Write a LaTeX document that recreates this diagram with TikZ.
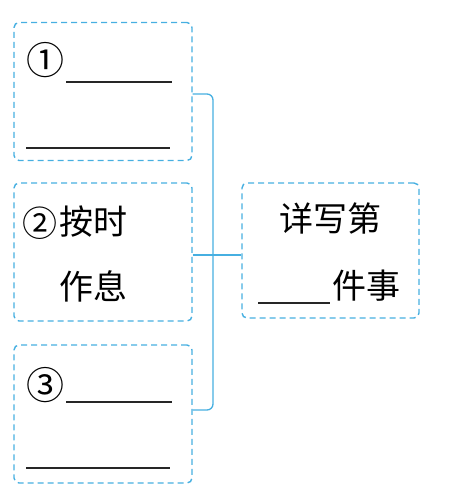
\documentclass[tikz,border=0pt]{standalone}
\usepackage{fontspec}
\newfontfamily\cjk{Noto Sans CJK SC}
\definecolor{boxblue}{RGB}{70,175,225}
\tikzset{
  dbox/.style={draw=boxblue, line width=1.4pt, dash pattern=on 6pt off 4pt, rounded corners=5pt, minimum width=178pt, minimum height=138pt, inner sep=0pt},
  conn/.style={draw=boxblue, line width=1.3pt},
  blank/.style={draw=black!85, line width=1.3pt},
  zh/.style={font=\cjk\fontsize{34}{34}\selectfont, inner sep=0pt, anchor=base west},
  circ/.style={font=\cjk\fontsize{38}{38}\selectfont, inner sep=0pt, anchor=center}
}
\begin{document}
\begin{tikzpicture}[x=1pt,y=-1pt]
\useasboundingbox (0,0) rectangle (451,496);
\node[dbox] (b1) at (103,91.5) {};
\node[dbox] (b2) at (103,252) {};
\node[dbox] (b3) at (103,414) {};
\node[dbox, minimum width=177pt, minimum height=135pt] (r) at (330.5,250.5) {};
% box 1
\node[circ] (c1) at (46,60) {①};
\draw[blank] (66,82) -- (172,82);
\draw[blank] (26,148) -- (170,148);
% box 2
\node[circ, font=\cjk\fontsize{35}{35}\selectfont] (c2) at (40,223) {②};
\node[zh] (t2a) at (59,234) {按时};
\node[zh] (t2b) at (59,299) {作息};
% box 3
\node[circ] (c3) at (46,385) {③};
\draw[blank] (66,402) -- (172,402);
\draw[blank] (26,468) -- (170,468);
% right box
\node[zh] (r1) at (279,231) {详写第};
\draw[blank] (258,303) -- (330,303);
\node[zh] (r2) at (332,298) {件事};
% connectors
\coordinate (top) at (213,94);
\coordinate (bot) at (213,410);
\coordinate (mid) at (213,255);
\draw[conn, rounded corners=6pt] (b1.east |- top) -- (top) -- (bot) -- (b3.east |- bot);
\draw[conn] (b2.east |- mid) -- (r.west |- mid);
\end{tikzpicture}
\end{document}
